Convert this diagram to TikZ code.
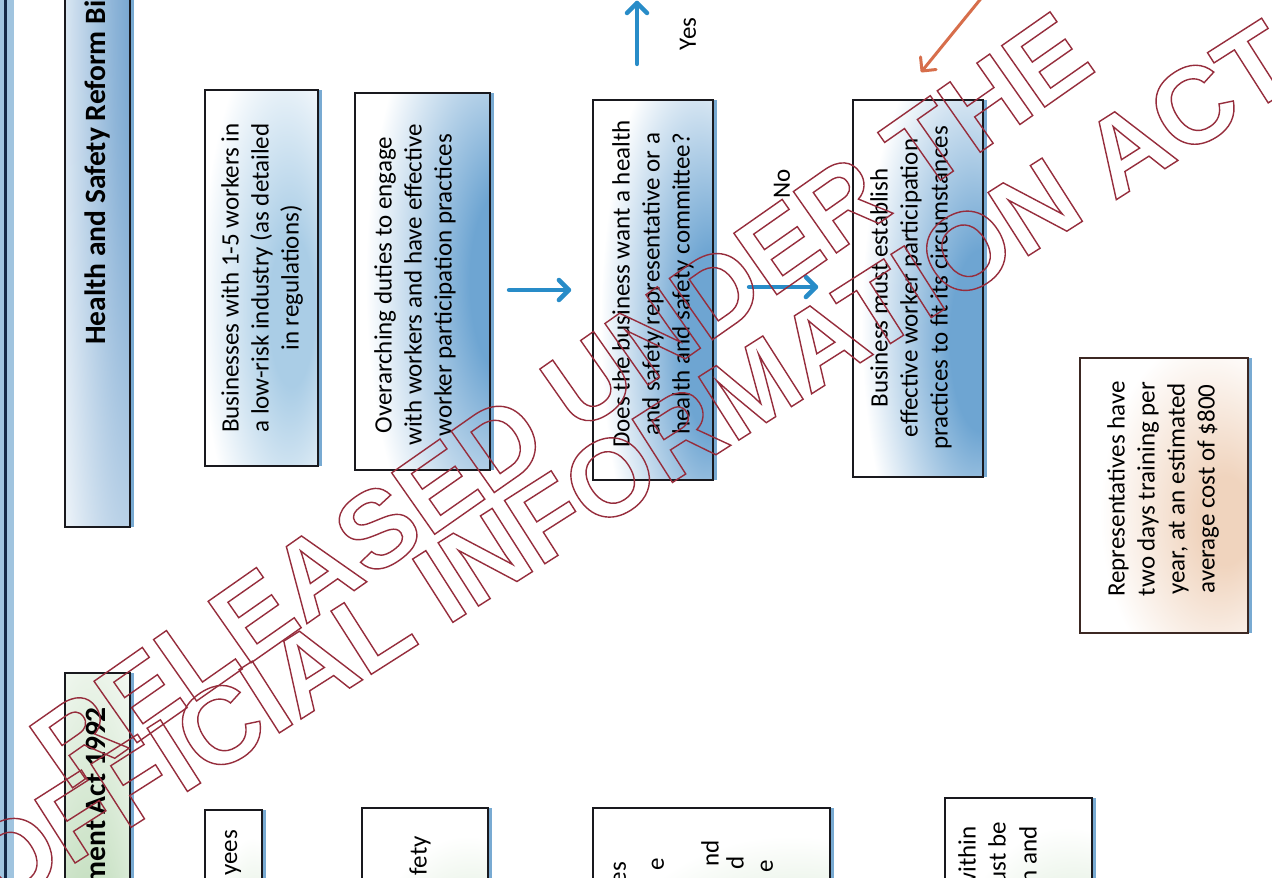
\documentclass[tikz,border=0pt]{standalone}
\usepackage{fontspec}
\setmainfont{Carlito}
\newfontfamily\wmfont{Liberation Sans}
\usetikzlibrary{calc}
\definecolor{boxline}{RGB}{25,25,30}
\definecolor{glowblue}{RGB}{120,170,210}
\definecolor{bxblue}{RGB}{110,165,210}
\definecolor{bxlight}{RGB}{170,205,230}
\definecolor{peach}{RGB}{240,212,190}
\definecolor{lgreen}{RGB}{195,222,190}
\definecolor{arrblue}{RGB}{40,140,200}
\definecolor{arrorange}{RGB}{215,110,75}
\definecolor{wmred}{RGB}{150,45,60}
\definecolor{navy}{RGB}{20,40,70}
\definecolor{titleblue}{RGB}{95,150,200}
\definecolor{ebox}{RGB}{60,40,35}
\pgfdeclareradialshading{glowA}{\pgfpoint{15bp}{-5bp}}{color(0bp)=(bxlight); color(10bp)=(bxlight); color(36bp)=(white); color(90bp)=(white)}
\pgfdeclareradialshading{glowB}{\pgfpoint{34bp}{0bp}}{color(0bp)=(bxblue); color(12bp)=(bxblue); color(40bp)=(white); color(90bp)=(white)}
\pgfdeclareradialshading{glowC}{\pgfpoint{28bp}{-8bp}}{color(0bp)=(bxblue); color(12bp)=(bxblue); color(38bp)=(white); color(90bp)=(white)}
\pgfdeclareradialshading{glowE}{\pgfpoint{20bp}{-5bp}}{color(0bp)=(peach); color(8bp)=(peach); color(32bp)=(white); color(90bp)=(white)}
\pgfdeclareradialshading{glowG}{\pgfpoint{30bp}{-40bp}}{color(0bp)=(lgreen); color(10bp)=(lgreen); color(40bp)=(white); color(90bp)=(white)}
\pgfdeclareradialshading{glowT}{\pgfpoint{40bp}{15bp}}{color(0bp)=(titleblue); color(20bp)=(titleblue!70!white); color(50bp)=(titleblue!15!white); color(90bp)=(white)}
\pgfdeclareradialshading{glowTG}{\pgfpoint{-10bp}{-50bp}}{color(0bp)=(lgreen); color(25bp)=(lgreen); color(60bp)=(white); color(90bp)=(white)}
\newcommand\outl[1]{\special{pdf:literal direct 1 Tr 1.4 w}#1\special{pdf:literal direct 0 Tr}}
% chevron arrow head: #1 tip coordinate, #2 direction angle, #3 style, #4 size
\newcommand\chevron[4]{\draw[#3, rotate around={#2:(#1)}] ($(#1)+(-#4,-#4)$) -- (#1) -- ($(#1)+(-#4,#4)$);}
\tikzset{
  box/.style={rectangle, draw=boxline, line width=2.2pt, inner sep=0pt, shade,
    preaction={fill=glowblue, transform canvas={xshift=4pt}}},
  txt/.style={font=\fontsize{25}{30}\selectfont, align=center, inner sep=0pt, text=black},
  frag/.style={font=\fontsize{25}{30}\selectfont, inner sep=0pt, anchor=east, rotate=90},
  ttl/.style={font=\bfseries\fontsize{29.5}{35}\selectfont, inner sep=0pt, rotate=90},
  bline/.style={draw=arrblue, line width=4.5pt, line cap=round, line join=round},
  oline/.style={draw=arrorange, line width=3pt, line cap=round, line join=round},
  wm/.style={font=\wmfont\bfseries\fontsize{109}{109}\selectfont, text=wmred, inner sep=0pt},
  lbl/.style={font=\fontsize{25}{30}\selectfont, inner sep=0pt, rotate=90}
}
\begin{document}
\begin{tikzpicture}[x=1pt,y=-1pt]
\useasboundingbox (0,0) rectangle (1272,878);
\clip (0,0) rectangle (1272,878);
\fill[white] (0,0) rectangle (1272,878);
% page frame edge
\fill[glowblue!70] (0,-5) rectangle (14,883);
\draw[navy, line width=3pt] (5,-5) -- (5,883);
% title boxes
\node[box, shading=glowT, minimum width=65pt, minimum height=727pt] (T1) at (97.5,163.5) {};
\node[ttl, anchor=west] (T1t) at (97.5,345) {Health and Safety Reform Bill};
\node[box, shading=glowTG, minimum width=65pt, minimum height=327pt] (T2) at (97.5,836.5) {};
\node[ttl, anchor=east] (T2t) at (97.5,707) {Health and Safety in Employment Act 1992};
% main boxes
\node[box, shading=glowA, minimum width=113pt, minimum height=376pt] (A) at (261.5,278) {};
\node[txt, rotate=90] (At) at (262,278) {Businesses with 1-5 workers in\\a low-risk industry (as detailed\\in regulations)};
\node[box, shading=glowB, minimum width=135pt, minimum height=377pt] (B) at (422.5,281.5) {};
\node[txt, rotate=90] (Bt) at (415,285) {Overarching duties to engage\\with workers and have effective\\worker participation practices};
\node[box, shading=glowC, minimum width=120pt, minimum height=380pt] (C) at (653,290) {};
\node[txt, rotate=90] (Ct) at (653,284) {Does the business want a health\\and safety representative or a\\health and safety committee?};
\node[box, shading=glowC, minimum width=130pt, minimum height=377pt] (D) at (918,288.5) {};
\node[txt, rotate=90] (Dt) at (911,288) {Business must establish\\effective worker participation\\practices to fit its circumstances};
\node[box, draw=ebox, shading=glowE, minimum width=168pt, minimum height=275pt] (E) at (1164,495.5) {};
\node[txt, rotate=90] (Et) at (1163,489) {Representatives have\\two days training per\\year, at an estimated\\average cost of \$800};
% bottom partial boxes
\node[box, shading=glowG, minimum width=57pt, minimum height=190pt] (P1) at (233.5,905) {};
\node[frag] (P1t) at (233,830) {yees};
\node[box, shading=glowG, minimum width=126pt, minimum height=192pt] (P2) at (425,904) {};
\node[frag] (P2t) at (420,836) {fety};
\node[box, shading=glowG, minimum width=237pt, minimum height=192pt] (P3) at (711.5,904) {};
\node[frag] (P3a) at (620,862) {es};
\node[frag] (P3b) at (658,858) {e};
\node[frag] (P3c) at (710,840) {nd};
\node[frag] (P3d) at (735,856) {d};
\node[frag] (P3e) at (767,860) {e};
\node[box, shading=glowG, minimum width=147pt, minimum height=202pt] (P4) at (1018.5,899) {};
\node[frag] (P4a) at (967,826) {within};
\node[frag] (P4b) at (997,822) {ust be};
\node[frag] (P4c) at (1028,826) {n and};
% connectors
\coordinate (a1tip) at ($(C.west)+(-23,0)$);
\draw[bline, shorten <=18pt] (B.east |- C.center) -- (a1tip);
\chevron{a1tip}{0}{bline}{10}
\coordinate (a2tip) at ($(D.west)+(-36,-1.5)$);
\draw[bline, shorten <=35pt] (C.east |- a2tip) -- (a2tip);
\chevron{a2tip}{0}{bline}{10}
\coordinate (yesend) at (637,3);
\draw[bline, shorten <=35pt] (C.north -| yesend) -- (yesend);
\chevron{yesend}{90}{bline}{10}
\node[lbl] (yes) at (688,34) {Yes};
\node[lbl] (no) at (782,184) {No};
\coordinate (orstart) at (992,-15);
\coordinate (ortip) at (922,71);
\draw[oline] (orstart) -- (ortip);
\chevron{ortip}{-129}{oline}{10}
% watermark
\node[wm, rotate=35] (wm1) at (561,400) {\outl{RELEASED UNDER THE}};
\node[wm, rotate=32.5] (wm2) at (630,465) {\outl{OFFICIAL INFORMATION ACT}};
\end{tikzpicture}
\end{document}
